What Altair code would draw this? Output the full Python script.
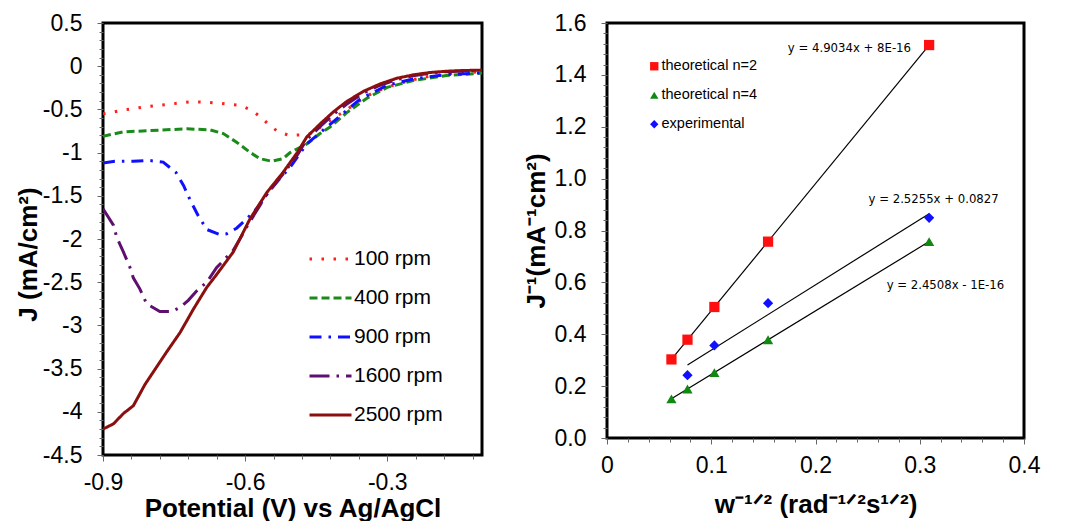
import altair as alt
import pandas as pd

# ---------------- Left panel: LSV curves ----------------
rpm_labels = ["100 rpm", "400 rpm", "900 rpm", "1600 rpm", "2500 rpm"]
rpm_colors = ["#ff1f1f", "#1a8a1a", "#1010ff", "#5f0f70", "#8c0f0f"]
rpm_dashes = [[2.5, 9.5], [8, 4], [12, 7, 2.5, 7], [20, 7, 2.5, 7], [1, 0]]

v100 = [-0.9, -0.885, -0.861, -0.81, -0.761, -0.711, -0.66, -0.61, -0.586, -0.567, -0.549,
        -0.53, -0.507, -0.48, -0.46, -0.43, -0.393, -0.35, -0.331, -0.30, -0.245, -0.21,
        -0.175, -0.14, -0.1]
j100 = [-0.55, -0.54, -0.51, -0.47, -0.44, -0.41, -0.425, -0.455, -0.51, -0.59, -0.68,
        -0.76, -0.80, -0.795, -0.78, -0.66, -0.53, -0.37, -0.31, -0.24, -0.155, -0.115,
        -0.09, -0.075, -0.065]

v400 = [-0.9, -0.857, -0.80, -0.723, -0.674, -0.646, -0.618, -0.59, -0.569, -0.544, -0.52,
        -0.505, -0.47, -0.442, -0.42, -0.386, -0.343, -0.30, -0.245, -0.175, -0.1]
j400 = [-0.81, -0.76, -0.745, -0.725, -0.737, -0.78, -0.88, -0.995, -1.07, -1.10, -1.07,
        -1.0, -0.90, -0.78, -0.70, -0.54, -0.37, -0.245, -0.166, -0.108, -0.08]

v900 = [-0.9, -0.875, -0.836, -0.804, -0.773, -0.746, -0.73, -0.716, -0.699, -0.681, -0.653,
        -0.639, -0.618, -0.597, -0.576, -0.551, -0.53, -0.505, -0.47, -0.42, -0.357, -0.30,
        -0.245, -0.175, -0.1]
j900 = [-1.12, -1.10, -1.10, -1.09, -1.11, -1.23, -1.38, -1.55, -1.73, -1.89, -1.95,
        -1.94, -1.875, -1.77, -1.65, -1.46, -1.32, -1.17, -0.90, -0.67, -0.38, -0.22,
        -0.147, -0.096, -0.077]

v1600 = [-0.9, -0.878, -0.871, -0.857, -0.843, -0.836, -0.822, -0.808, -0.78, -0.755, -0.737,
         -0.72, -0.702, -0.681, -0.66, -0.625, -0.59, -0.554, -0.52, -0.49, -0.47, -0.442,
         -0.414, -0.386, -0.35, -0.315, -0.28, -0.245, -0.21, -0.175, -0.14, -0.1]
j1600 = [-1.65, -1.84, -1.98, -2.15, -2.33, -2.45, -2.58, -2.75, -2.84, -2.84, -2.79,
         -2.71, -2.60, -2.50, -2.33, -2.13, -1.80, -1.48, -1.25, -1.03, -0.85, -0.70,
         -0.56, -0.44, -0.31, -0.22, -0.155, -0.11, -0.08, -0.063, -0.055, -0.05]

v2500 = [-0.9, -0.878, -0.857, -0.836, -0.811, -0.794, -0.766, -0.737, -0.709, -0.681, -0.66,
         -0.625, -0.59, -0.554, -0.52, -0.49, -0.47, -0.442, -0.414, -0.386, -0.35, -0.315,
         -0.28, -0.245, -0.21, -0.175, -0.14, -0.1]
j2500 = [-4.2, -4.14, -4.02, -3.93, -3.68, -3.54, -3.31, -3.08, -2.81, -2.56, -2.41,
         -2.15, -1.77, -1.46, -1.23, -1.0, -0.82, -0.67, -0.53, -0.41, -0.29, -0.205,
         -0.14, -0.10, -0.073, -0.058, -0.05, -0.045]

rows = []
for name, vs, js in zip(rpm_labels, [v100, v400, v900, v1600, v2500],
                        [j100, j400, j900, j1600, j2500]):
    for i, (v, j) in enumerate(zip(vs, js)):
        rows.append({"series": name, "V": v, "J": j, "idx": i})
lsv = pd.DataFrame(rows)

left_y_ticks = [round(-4.5 + 0.1 * i, 1) for i in range(51)]
left_x_ticks = [round(-0.9 + 0.06 * i, 2) for i in range(14)]

# ---------------- Right panel: Koutecky-Levich ----------------
kl_series = ["theoretical n=2", "theoretical n=4", "experimental"]
kl_colors = ["#ff1010", "#118811", "#1010ff"]
kl_shapes = ["square", "triangle-up", "diamond"]

w_x = [0.0618, 0.0772, 0.1030, 0.1545, 0.3090]
n2_y = [0.303, 0.379, 0.505, 0.757, 1.515]
n4_y = [0.151, 0.189, 0.252, 0.379, 0.757]
exp_x = [0.0772, 0.1030, 0.1545, 0.3090]
exp_y = [0.242, 0.357, 0.520, 0.849]

kl_rows = []
for xv, yv in zip(w_x, n2_y):
    kl_rows.append({"series": kl_series[0], "x": xv, "y": yv})
for xv, yv in zip(w_x, n4_y):
    kl_rows.append({"series": kl_series[1], "x": xv, "y": yv})
for xv, yv in zip(exp_x, exp_y):
    kl_rows.append({"series": kl_series[2], "x": xv, "y": yv})
kl = pd.DataFrame(kl_rows)

eq_text = ["y = 4.9034x + 8E-16", "y = 2.5255x + 0.0827", "y = 2.4508x - 1E-16"]
eq_x = [0.2916, 0.3757, 0.381]
eq_y = [1.505, 0.920, 0.589]
eqs = pd.DataFrame({"label": eq_text, "x": eq_x, "y": eq_y})

right_y_ticks = [round(0.04 * i, 2) for i in range(41)]
right_x_ticks = [round(0.02 * i, 2) for i in range(21)]

FONT = "Liberation Sans"
NARROW = "'Liberation Sans Narrow', 'DejaVu Sans Condensed', 'Liberation Sans'"

# ---------------- build left ----------------
major_lx = "abs(datum.value/0.3 - round(datum.value/0.3)) < 0.001"
major_ly = "abs(datum.value*2 - round(datum.value*2)) < 0.001"

left_legend = alt.Legend(
    orient="none", legendX=205, legendY=225, title=None, padding=0,
    labelFontSize=21, labelFont=FONT, labelColor="black", labelOffset=1,
    symbolType="stroke", symbolSize=1764, symbolStrokeWidth=3,
    clipHeight=22, rowPadding=17,
)

left = alt.Chart(lsv).mark_line(strokeWidth=3, clip=True).encode(
    x=alt.X("V:Q", scale=alt.Scale(domain=[-0.9, -0.1], nice=False, zero=False),
            axis=alt.Axis(values=left_x_ticks, title="Potential (V) vs Ag/AgCl",
                          labelExpr=f"{major_lx} ? toString(round(datum.value*10)/10) : ''",
                          tickSize={"condition": {"test": major_lx, "value": 6}, "value": 4},
                          labelPadding=10, labelFlush=False, titleY=40, titleBaseline="top")),
    y=alt.Y("J:Q", scale=alt.Scale(domain=[-4.5, 0.5], nice=False, zero=False),
            axis=alt.Axis(values=left_y_ticks, title="J (mA/cm²)",
                          labelExpr=f"{major_ly} ? toString(datum.value) : ''",
                          tickSize={"condition": {"test": major_ly, "value": 6}, "value": 4},
                          labelPadding=15, labelFlush=False, titlePadding=1, titleY=231)),
    color=alt.Color("series:N", scale=alt.Scale(domain=rpm_labels, range=rpm_colors),
                    legend=left_legend),
    strokeDash=alt.StrokeDash("series:N", scale=alt.Scale(domain=rpm_labels, range=rpm_dashes),
                              legend=left_legend),
    order=alt.Order("idx:Q"),
).properties(width=379, height=432)

# ---------------- build right ----------------
major_rx = "abs(datum.value*10 - round(datum.value*10)) < 0.001"
major_ry = "abs(datum.value*5 - round(datum.value*5)) < 0.001"

xr = alt.X("x:Q", scale=alt.Scale(domain=[0, 0.4], nice=False),
           axis=alt.Axis(values=right_x_ticks, title="w⁻¹ᐟ² (rad⁻¹ᐟ²s¹ᐟ²)",
                         labelExpr=f"{major_rx} ? toString(round(datum.value*10)/10) : ''",
                         tickSize={"condition": {"test": major_rx, "value": 6}, "value": 4},
                         labelPadding=10, labelFlush=False, titleY=53, titleBaseline="top"))
yr = alt.Y("y:Q", scale=alt.Scale(domain=[0, 1.6], nice=False),
           axis=alt.Axis(values=right_y_ticks, title="J⁻¹(mA⁻¹cm²)",
                         labelExpr=f"{major_ry} ? format(datum.value, '.1f') : ''",
                         tickSize={"condition": {"test": major_ry, "value": 6}, "value": 4},
                         labelPadding=15, labelFlush=False, titlePadding=5))

right_legend = alt.Legend(
    orient="none", legendX=40, legendY=36, title=None, padding=0,
    labelFontSize=14.5, labelFont=FONT, labelColor="black", labelOffset=0,
    symbolSize=70, symbolStrokeWidth=0, rowPadding=14,
)

fits = alt.Chart(kl).transform_regression("x", "y", groupby=["series"]).mark_line(
    color="black", strokeWidth=1.2
).encode(x=xr, y=yr, detail="series:N")

pts = alt.Chart(kl).mark_point(filled=True, opacity=1, size=105).encode(
    x=xr, y=yr,
    color=alt.Color("series:N", scale=alt.Scale(domain=kl_series, range=kl_colors),
                    legend=right_legend),
    shape=alt.Shape("series:N", scale=alt.Scale(domain=kl_series, range=kl_shapes),
                    legend=right_legend),
)

eq_layer = alt.Chart(eqs).mark_text(
    align="right", baseline="middle", font=NARROW, fontSize=13, color="black"
).encode(x=xr, y=yr, text="label:N")

right = alt.layer(fits, pts, eq_layer).properties(width=417, height=415)

chart = alt.hconcat(left, right, spacing=37).resolve_scale(
    color="independent", shape="independent", strokeDash="independent"
).resolve_legend(
    color="independent", shape="independent", strokeDash="independent"
).properties(
    padding={"left": 5, "top": 2, "right": 5, "bottom": 5}
).configure_view(
    stroke="black", strokeWidth=3
).configure_axis(
    labelFont=FONT, labelFontSize=23, labelColor="black",
    titleFont=FONT, titleFontSize=26, titleFontWeight="bold", titleColor="black",
    tickColor="#666666", tickWidth=1, domain=False, grid=False,
).configure_legend(
    labelLimit=300
)

chart.save("out.html", embed_options={"renderer": "svg", "actions": False})
